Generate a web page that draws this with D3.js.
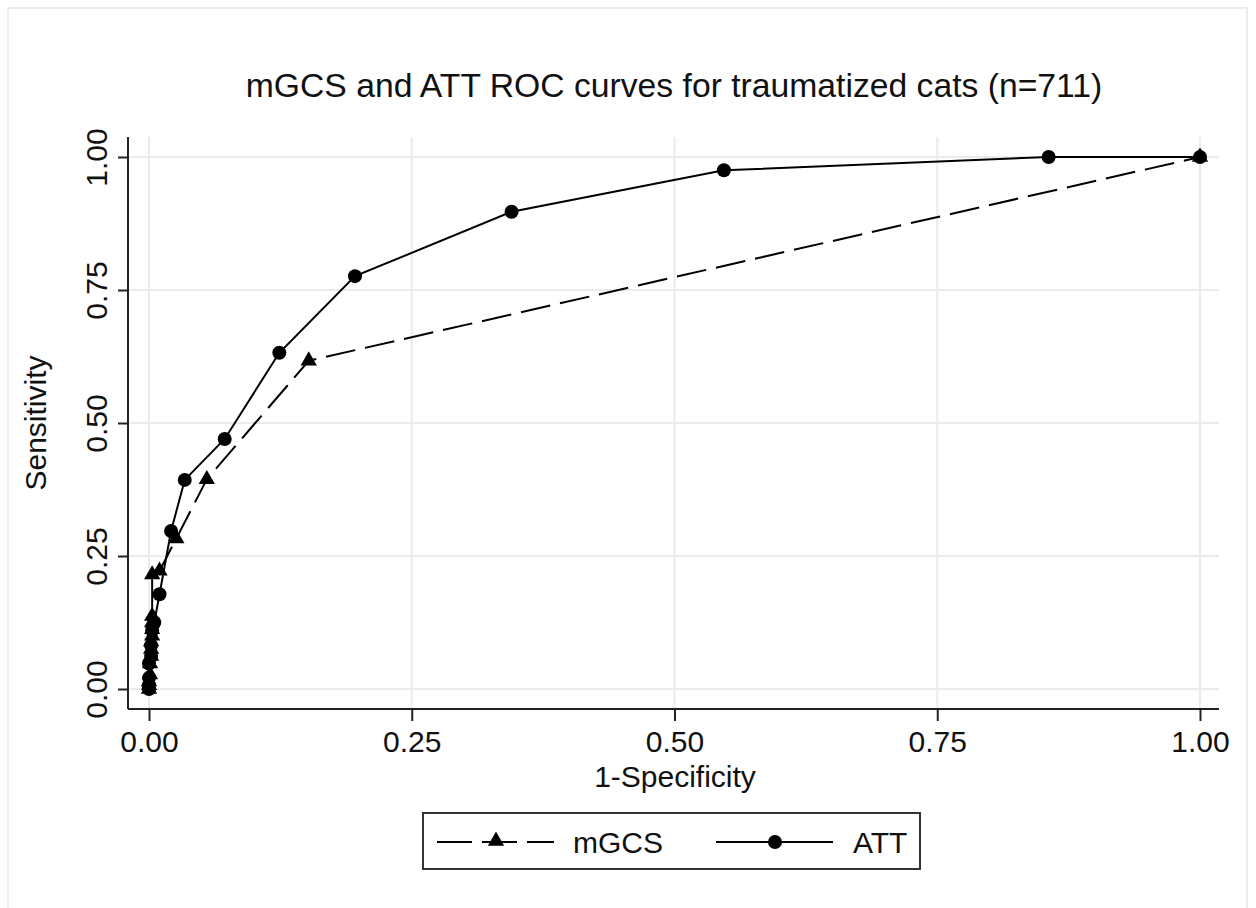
<!DOCTYPE html>
<html>
<head>
<meta charset="utf-8">
<script src="https://cdn.jsdelivr.net/npm/d3@7"></script>
<style>
  body { margin: 0; background: #fff; }
  text { font-family: "Liberation Sans", Arial, sans-serif; fill: #111; }
</style>
</head>
<body>
<svg id="chart" width="1256" height="908"></svg>
<script>
// ROC points: 1-specificity, sensitivity
const mgcsFpr = [0, 0, 0, 0.001, 0.001, 0.002, 0.002, 0.002, 0.003, 0.003, 0.003, 0.003, 0.003, 0.010, 0.026, 0.055, 0.152, 1];
const mgcsTpr = [0, 0.007, 0.014, 0.027, 0.048, 0.062, 0.075, 0.089, 0.100, 0.112, 0.125, 0.137, 0.215, 0.222, 0.283, 0.394, 0.617, 1];
const attFpr = [0, 0, 0, 0, 0.002, 0.002, 0.003, 0.005, 0.010, 0.021, 0.034, 0.072, 0.124, 0.196, 0.345, 0.547, 0.856, 1];
const attTpr = [0, 0.007, 0.021, 0.048, 0.062, 0.082, 0.110, 0.125, 0.178, 0.297, 0.393, 0.470, 0.632, 0.776, 0.897, 0.975, 1, 1];
const tickVals = [0, 0.25, 0.5, 0.75, 1];
const titleText = 'mGCS and ATT ROC curves for traumatized cats (n=711)';

const svg = d3.select('#chart');

// outer graph frame
svg.append('rect')
  .attr('x', 8).attr('y', 8).attr('width', 1239).attr('height', 920)
  .attr('fill', 'none').attr('stroke', '#ececec').attr('stroke-width', 2);

const x = d3.scaleLinear().domain([0, 1]).range([149, 1200]);
const y = d3.scaleLinear().domain([0, 1]).range([689, 157]);
const plotL = 128, plotR = 1219, plotT = 137, plotB = 709;

// grid
const g = svg.append('g');
g.selectAll('.vg').data(tickVals).join('line')
  .attr('x1', d => x(d)).attr('x2', d => x(d)).attr('y1', plotT).attr('y2', plotB)
  .attr('stroke', '#ebebeb').attr('stroke-width', 2);
g.selectAll('.hg').data(tickVals).join('line')
  .attr('y1', d => y(d)).attr('y2', d => y(d)).attr('x1', plotL).attr('x2', plotR)
  .attr('stroke', '#ebebeb').attr('stroke-width', 2);

// axes
const xAxis = svg.append('g').attr('transform', `translate(0,${plotB})`)
  .call(d3.axisBottom(x).tickValues(tickVals).tickFormat(d3.format('.2f')).tickSize(12).tickPadding(10).tickSizeOuter(0));
xAxis.select('.domain').attr('d', `M${plotL},0H${plotR}`);
const yAxis = svg.append('g').attr('transform', `translate(${plotL},0)`)
  .call(d3.axisLeft(y).tickValues(tickVals).tickFormat(d3.format('.2f')).tickSize(10).tickSizeOuter(0));
yAxis.select('.domain').attr('d', `M0,${plotT}V${plotB}`);
svg.selectAll('.domain').attr('stroke', '#222').attr('stroke-width', 2);
svg.selectAll('.tick line').attr('stroke', '#222').attr('stroke-width', 2);
xAxis.selectAll('.tick text').attr('font-size', 30).attr('fill', '#111');
yAxis.selectAll('.tick text')
  .attr('font-size', 30).attr('fill', '#111')
  .attr('x', null).attr('dy', null)
  .attr('text-anchor', 'middle')
  .attr('transform', 'translate(-21,0) rotate(-90)');

// curves
const mgcs = mgcsFpr.map((v, i) => [v, mgcsTpr[i]]);
const att = attFpr.map((v, i) => [v, attTpr[i]]);
const line = d3.line().x(d => x(d[0])).y(d => y(d[1]));

svg.append('path').datum(mgcs).attr('d', line)
  .attr('fill', 'none').attr('stroke', '#000').attr('stroke-width', 2)
  .attr('stroke-dasharray', '30,10');
svg.append('path').datum(att).attr('d', line)
  .attr('fill', 'none').attr('stroke', '#000').attr('stroke-width', 2);

const tri = d3.symbol().type(d3.symbolTriangle).size(115);
svg.append('g').selectAll('path').data(mgcs).join('path')
  .attr('d', tri).attr('transform', d => `translate(${x(d[0])},${y(d[1])})`).attr('fill', '#000');
svg.append('g').selectAll('circle').data(att).join('circle')
  .attr('cx', d => x(d[0])).attr('cy', d => y(d[1])).attr('r', 7).attr('fill', '#000');

// titles
svg.append('text').attr('x', 674).attr('y', 97).attr('text-anchor', 'middle')
  .attr('font-size', 33.7).text(titleText);
svg.append('text').attr('x', 675).attr('y', 787).attr('text-anchor', 'middle')
  .attr('font-size', 30).text('1-Specificity');
svg.append('text').attr('transform', 'translate(46,423) rotate(-90)').attr('text-anchor', 'middle')
  .attr('font-size', 30).text('Sensitivity');

// legend
const lg = svg.append('g');
lg.append('rect').attr('x', 423).attr('y', 813).attr('width', 497).attr('height', 56)
  .attr('fill', '#fff').attr('stroke', '#333').attr('stroke-width', 2);
lg.append('line').attr('x1', 437).attr('x2', 554).attr('y1', 842).attr('y2', 842)
  .attr('stroke', '#000').attr('stroke-width', 2).attr('stroke-dasharray', '35,10');
lg.append('path').attr('d', tri).attr('transform', 'translate(496,841)').attr('fill', '#000');
lg.append('text').attr('x', 573).attr('y', 853).attr('font-size', 30).text('mGCS');
lg.append('line').attr('x1', 716).attr('x2', 833).attr('y1', 842).attr('y2', 842)
  .attr('stroke', '#000').attr('stroke-width', 2);
lg.append('circle').attr('cx', 775).attr('cy', 842).attr('r', 7).attr('fill', '#000');
lg.append('text').attr('x', 853).attr('y', 853).attr('font-size', 30).text('ATT');
</script>
</body>
</html>
